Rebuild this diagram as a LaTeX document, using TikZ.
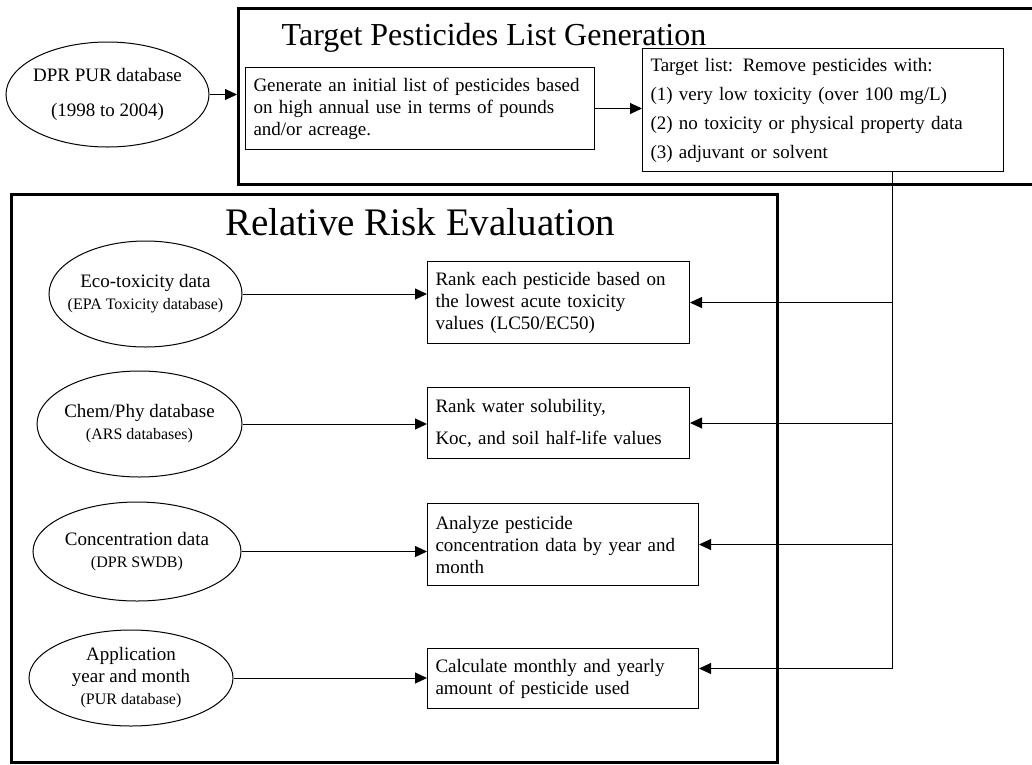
\documentclass[tikz,border=0pt]{standalone}
\usepackage{fontspec}
\setmainfont{Liberation Serif}
\usetikzlibrary{arrows.meta,positioning,calc,shapes.geometric}
\newcommand{\dbnote}[1]{{\fontsize{16}{18}\selectfont #1}}
\tikzset{frame/.style={draw,line width=3.2pt,anchor=north west,inner sep=0pt},
  stepbox/.style={draw,line width=1pt,anchor=north west,align=left,inner xsep=8pt,inner ysep=0pt,font=\fontsize{19}{22}\selectfont},
  src/.style={ellipse,draw,line width=1pt,inner xsep=-30pt,inner ysep=0pt,align=center,font=\fontsize{19}{22}\selectfont},
  head/.style={anchor=base,inner sep=0pt},
  wire/.style={line width=1pt},
  arr/.style={wire,-{Triangle[length=12pt,width=11pt]}}}
\begin{document}
\begin{tikzpicture}[x=1pt,y=-1pt]
\useasboundingbox (0,0) rectangle (1032,764);
% stage 1
\node[frame,minimum width=830,minimum height=176] (tframe) at (237,7) {};
\node[head,font=\fontsize{32}{32}\selectfont] (ttitle) at (494,45) {Target Pesticides List Generation};
\node[src,minimum width=203,minimum height=105] (dpr) at (107.5,94.5) {DPR PUR database\\[13pt](1998 to 2004)};
\node[stepbox,text width=333,minimum height=82] (gen) at (245,67)
 {Generate an initial list of pesticides based\\on high annual use in terms of pounds\\and/or acreage.};
\node[stepbox,text width=345,minimum height=123,font=\fontsize{19}{29}\selectfont] (target) at (642,48)
 {Target list: Remove pesticides with:\\(1) very low toxicity (over 100 mg/L)\\(2) no toxicity or physical property data\\(3) adjuvant or solvent};
\draw[arr] (dpr.east) -- (dpr.east -| tframe.west);
\draw[arr] (gen.east) -- (gen.east -| target.west);
% stage 2
\node[frame,minimum width=766,minimum height=568] (rframe) at (10,193) {};
\node[head,font=\fontsize{39}{39}\selectfont] (rtitle) at (420,235) {Relative Risk Evaluation};
\node[src,minimum width=193,minimum height=106] (eco) at (145.5,294) {Eco-toxicity data\\\dbnote{(EPA Toxicity database)}};
\node[src,minimum width=205,minimum height=106] (chem) at (139.5,424) {Chem/Phy database\\\dbnote{(ARS databases)}};
\node[src,minimum width=208,minimum height=99] (conc) at (137,551.5) {Concentration data\\\dbnote{(DPR SWDB)}};
\node[src,minimum width=204,minimum height=96] (appl) at (131,678) {Application\\year and month\\\dbnote{(PUR database)}};
\node[stepbox,text width=246,minimum height=82] (rank) at (427,261)
 {Rank each pesticide based on\\the lowest acute toxicity\\values (LC50/EC50)};
\node[stepbox,text width=246,minimum height=71,font=\fontsize{19}{32}\selectfont] (water) at (427,387)
 {Rank water solubility,\\Koc, and soil half-life values};
\node[stepbox,text width=255,minimum height=82] (anlz) at (427,503)
 {Analyze pesticide\\concentration data by year and\\month};
\node[stepbox,text width=255,minimum height=60] (calc) at (427,648)
 {Calculate monthly and yearly\\amount of pesticide used};
\draw[arr] (eco.east) -- (eco.east -| rank.west);
\draw[arr] (chem.east) -- (chem.east -| water.west);
\draw[arr] (conc.east) -- (conc.east -| anlz.west);
\draw[arr] (appl.east) -- (appl.east -| calc.west);
% feed from target list
\coordinate (tapx) at (892,0);
\coordinate (tap) at (tapx |- target.south);
\coordinate (calcin) at ([yshift=10pt]calc.east);
\draw[wire] (tap) -- (tap |- calcin);
\foreach \b in {rank,water,anlz}{\draw[arr] (tap |- \b.east) -- (\b.east);}
\draw[arr] (tap |- calcin) -- (calcin);
\end{tikzpicture}
\end{document}
